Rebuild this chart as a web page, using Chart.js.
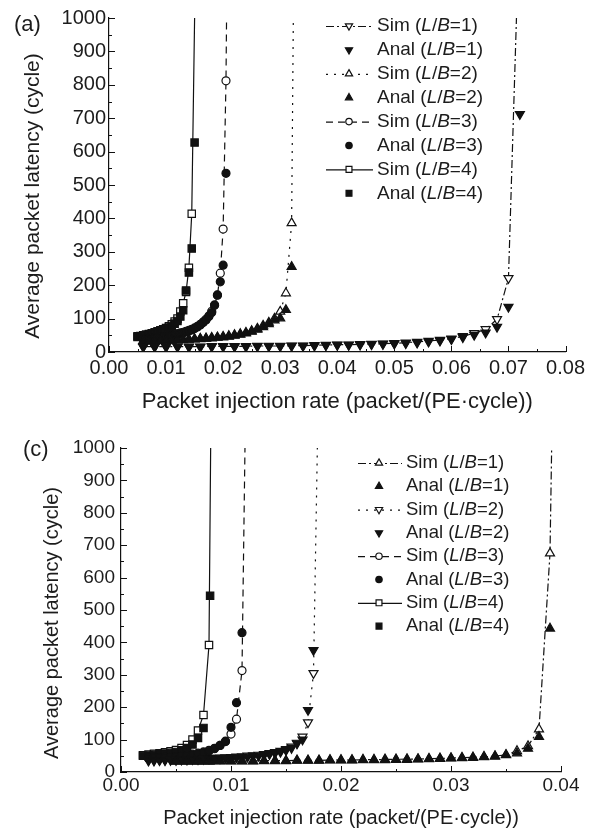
<!DOCTYPE html>
<html>
<head>
<meta charset="utf-8">
<script src="https://cdn.jsdelivr.net/npm/chart.js@4.4.1/dist/chart.umd.min.js"></script>
<style>
  html, body { margin: 0; padding: 0; background: #fff; }
  canvas { display: block; }
</style>
</head>
<body>
<canvas id="chart-a" width="589" height="420"></canvas>
<canvas id="chart-c" width="589" height="418"></canvas>
<script>
// axis ticks
const yTicks = [0, 100, 200, 300, 400, 500, 600, 700, 800, 900, 1000];
const yMinor = [50, 150, 250, 350, 450, 550, 650, 750, 850, 950];
const aXTicks = [0, 0.01, 0.02, 0.03, 0.04, 0.05, 0.06, 0.07, 0.08];
const aXMinor = [0.005, 0.015, 0.025, 0.035, 0.045, 0.055, 0.065, 0.075];
const cXTicks = [0, 0.01, 0.02, 0.03, 0.04];
const cXMinor = [0.005, 0.015, 0.025, 0.035];

const seriesLabels = ['Sim (L/B=1)', 'Anal (L/B=1)', 'Sim (L/B=2)', 'Anal (L/B=2)',
  'Sim (L/B=3)', 'Anal (L/B=3)', 'Sim (L/B=4)', 'Anal (L/B=4)'];

// ---- panel (a) ----
const a1SimX = [0.006, 0.008, 0.010, 0.012, 0.014, 0.016, 0.018, 0.020, 0.022, 0.024, 0.026, 0.028, 0.030, 0.032, 0.034, 0.036, 0.038,
  0.040, 0.042, 0.044, 0.046, 0.048, 0.050, 0.052, 0.054, 0.056, 0.058, 0.060, 0.062, 0.064, 0.066, 0.068, 0.070, 0.0714];
const a1SimY = [16, 16, 16, 16, 16, 16, 17, 17, 17, 17, 18, 18, 18, 19, 19, 20, 21,
  22, 22, 23, 24, 25, 26, 28, 30, 33, 36, 40, 47, 56, 68, 98, 221, 1000];
const a1AnaX = [0.006, 0.008, 0.010, 0.012, 0.014, 0.016, 0.018, 0.020, 0.022, 0.024, 0.026, 0.028, 0.030, 0.032, 0.034, 0.036, 0.038,
  0.040, 0.042, 0.044, 0.046, 0.048, 0.050, 0.052, 0.054, 0.056, 0.058, 0.060, 0.062, 0.064, 0.066, 0.068, 0.070, 0.072];
const a1AnaY = [15, 15, 15, 15, 15, 15, 16, 16, 16, 16, 17, 17, 17, 18, 18, 19, 20,
  21, 21, 22, 23, 24, 25, 26, 28, 31, 34, 38, 44, 51, 58, 75, 135, 712];

const a2SimX = [0.006, 0.007, 0.008, 0.009, 0.010, 0.011, 0.012, 0.013, 0.014, 0.015, 0.016, 0.017, 0.018, 0.019,
  0.020, 0.021, 0.022, 0.023, 0.024, 0.025, 0.026, 0.027, 0.028, 0.029, 0.030, 0.031, 0.032, 0.0323];
const a2SimY = [33, 33, 34, 34, 35, 35, 36, 37, 38, 39, 40, 41, 43, 44,
  46, 48, 51, 54, 58, 63, 70, 79, 88, 100, 121, 176, 386, 1000];
const a2AnaX = [0.006, 0.007, 0.008, 0.009, 0.010, 0.011, 0.012, 0.013, 0.014, 0.015, 0.016, 0.017, 0.018, 0.019,
  0.020, 0.021, 0.022, 0.023, 0.024, 0.025, 0.026, 0.027, 0.028, 0.029, 0.030, 0.031, 0.032];
const a2AnaY = [32, 32, 33, 33, 34, 34, 35, 36, 37, 38, 39, 40, 41, 43,
  44, 46, 49, 52, 56, 61, 67, 75, 84, 95, 101, 126, 255];

const a3SimX = [0.006, 0.0065, 0.007, 0.0075, 0.008, 0.0085, 0.009, 0.0095, 0.010, 0.0105, 0.011, 0.0115, 0.012, 0.0125, 0.013,
  0.0135, 0.014, 0.0145, 0.015, 0.0155, 0.016, 0.0165, 0.017, 0.0175, 0.018, 0.0185, 0.019, 0.0195, 0.020, 0.0205, 0.0206];
const a3SimY = [40, 41, 42, 43, 44, 45, 46, 47, 48, 50, 51, 53, 55, 57, 59,
  62, 65, 68, 72, 77, 83, 90, 98, 108, 122, 140, 170, 236, 368, 812, 1000];
const a3AnaX = [0.006, 0.0065, 0.007, 0.0075, 0.008, 0.0085, 0.009, 0.0095, 0.010, 0.0105, 0.011, 0.0115, 0.012, 0.0125, 0.013,
  0.0135, 0.014, 0.0145, 0.015, 0.0155, 0.016, 0.0165, 0.017, 0.0175, 0.018, 0.0185, 0.019, 0.0195, 0.020, 0.0205];
const a3AnaY = [38, 39, 40, 41, 42, 43, 44, 45, 46, 48, 49, 51, 53, 55, 57,
  60, 63, 66, 70, 75, 81, 88, 96, 106, 118, 141, 171, 210, 260, 535];

const a4SimX = [0.005, 0.0055, 0.006, 0.0065, 0.007, 0.0075, 0.008, 0.0085, 0.009, 0.0095, 0.010,
  0.0105, 0.011, 0.0115, 0.012, 0.0125, 0.013, 0.0135, 0.014, 0.0145, 0.0150];
const a4SimY = [47, 48, 50, 52, 54, 56, 59, 62, 65, 68, 72, 77, 83, 91, 100, 121, 146, 180, 252, 414, 1000];
const a4AnaX = [0.005, 0.0055, 0.006, 0.0065, 0.007, 0.0075, 0.008, 0.0085, 0.009, 0.0095, 0.010,
  0.0105, 0.011, 0.0115, 0.012, 0.0125, 0.013, 0.0135, 0.014, 0.0145, 0.0150];
const a4AnaY = [45, 46, 48, 50, 52, 54, 56, 59, 62, 65, 69, 73, 78, 85, 93, 106, 125, 184, 238, 310, 627];

// ---- panel (c) ----
const c1SimX = [0.005, 0.006, 0.007, 0.008, 0.009, 0.010, 0.011, 0.012, 0.013, 0.014, 0.015, 0.016, 0.017, 0.018,
  0.019, 0.020, 0.021, 0.022, 0.023, 0.024, 0.025, 0.026, 0.027, 0.028, 0.029, 0.030, 0.031, 0.032, 0.033,
  0.034, 0.035, 0.036, 0.037, 0.038, 0.039, 0.03915];
const c1SimY = [33, 33, 33, 33, 34, 34, 34, 34, 35, 35, 35, 36, 36, 36,
  37, 37, 37, 38, 38, 39, 39, 40, 40, 41, 42, 43, 44, 45, 47,
  49, 53, 65, 80, 132, 675, 1000];
const c1AnaX = [0.005, 0.006, 0.007, 0.008, 0.009, 0.010, 0.011, 0.012, 0.013, 0.014, 0.015, 0.016, 0.017, 0.018,
  0.019, 0.020, 0.021, 0.022, 0.023, 0.024, 0.025, 0.026, 0.027, 0.028, 0.029, 0.030, 0.031, 0.032, 0.033,
  0.034, 0.035, 0.036, 0.037, 0.038, 0.039];
const c1AnaY = [32, 32, 32, 32, 33, 33, 33, 33, 34, 34, 34, 35, 35, 35,
  36, 36, 36, 37, 37, 37, 38, 38, 39, 40, 41, 42, 43, 44, 46,
  48, 52, 58, 72, 109, 443];

const c2SimX = [0.0025, 0.003, 0.0035, 0.004, 0.0045, 0.005, 0.0055, 0.006, 0.0065, 0.007, 0.0075, 0.008, 0.0085, 0.009,
  0.0095, 0.010, 0.0105, 0.011, 0.0115, 0.012, 0.0125, 0.013, 0.0135, 0.014, 0.0145, 0.015, 0.0155, 0.016, 0.0165,
  0.017, 0.0175, 0.01785];
const c2SimY = [37, 37, 38, 38, 39, 39, 40, 40, 41, 41, 42, 43, 43, 44,
  45, 46, 47, 48, 50, 51, 53, 55, 58, 61, 65, 70, 78, 90, 109,
  153, 305, 1000];
const c2AnaX = [0.0025, 0.003, 0.0035, 0.004, 0.0045, 0.005, 0.0055, 0.006, 0.0065, 0.007, 0.0075, 0.008, 0.0085, 0.009,
  0.0095, 0.010, 0.0105, 0.011, 0.0115, 0.012, 0.0125, 0.013, 0.0135, 0.014, 0.0145, 0.015, 0.0155, 0.016, 0.0165,
  0.017, 0.0175];
const c2AnaY = [35, 35, 36, 36, 37, 37, 38, 38, 39, 39, 40, 41, 41, 42,
  43, 44, 45, 46, 47, 49, 50, 52, 55, 58, 62, 67, 74, 88, 100,
  191, 376];

const c3SimX = [0.0025, 0.003, 0.0035, 0.004, 0.0045, 0.005, 0.0055, 0.006, 0.0065, 0.007, 0.0075, 0.008, 0.0085,
  0.009, 0.0095, 0.010, 0.0105, 0.011, 0.01127];
const c3SimY = [44, 45, 46, 47, 48, 49, 51, 53, 55, 58, 62, 67, 73, 82, 95, 117, 163, 313, 1000];
const c3AnaX = [0.0025, 0.003, 0.0035, 0.004, 0.0045, 0.005, 0.0055, 0.006, 0.0065, 0.007, 0.0075, 0.008, 0.0085,
  0.009, 0.0095, 0.010, 0.0105, 0.011];
const c3AnaY = [42, 43, 44, 45, 46, 47, 49, 51, 53, 56, 60, 65, 72, 82, 94, 138, 214, 430];

const c4SimX = [0.002, 0.0025, 0.003, 0.0035, 0.004, 0.0045, 0.005, 0.0055, 0.006, 0.0065, 0.007, 0.0075, 0.008, 0.00815];
const c4SimY = [52, 54, 56, 58, 61, 64, 68, 74, 83, 100, 128, 176, 392, 1000];
const c4AnaX = [0.002, 0.0025, 0.003, 0.0035, 0.004, 0.0045, 0.005, 0.0055, 0.006, 0.0065, 0.007, 0.0075, 0.0081];
const c4AnaY = [50, 51, 53, 55, 57, 59, 62, 67, 74, 85, 105, 136, 544];

const black = '#111';
const textColor = '#1c1c1c';
const family = '"Liberation Sans", Arial, Helvetica, sans-serif';

const dashes = {
  dashDot: [8, 3, 2, 3],
  dotted: [2, 6],
  dashed: [7, 5],
  solid: [],
};
const markerRadius = { triangle: 5.2, circle: 4, rect: 5.2 };

function points(xs, ys) {
  return xs.map((x, i) => ({ x, y: ys[i] }));
}

// simulated series: open markers joined by a line, the last point only closes the curve at the top
function simSeries(label, xs, ys, style, rotation, dash) {
  return {
    label,
    order: 1,
    data: points(xs, ys),
    showLine: true,
    borderColor: black,
    borderWidth: 1.2,
    borderDash: dash,
    pointStyle: style,
    pointRotation: rotation,
    pointRadius: xs.map((x, i) => (i === xs.length - 1 ? 0 : markerRadius[style])),
    pointBackgroundColor: '#fff',
    pointBorderColor: black,
    pointBorderWidth: 1.2,
  };
}

// analytical series: filled markers only, drawn above the simulated ones
function analSeries(label, xs, ys, style, rotation) {
  return {
    label,
    order: 0,
    data: points(xs, ys),
    showLine: false,
    pointStyle: style,
    pointRotation: rotation,
    pointRadius: markerRadius[style],
    pointBackgroundColor: black,
    pointBorderColor: black,
    pointBorderWidth: 1.2,
  };
}

function drawLabel(ctx, text, x, y, size) {
  let cx = x;
  text.split(/([LB])/).forEach((part) => {
    if (!part) return;
    const italic = part === 'L' || part === 'B';
    ctx.font = `${italic ? 'italic ' : ''}${size}px ${family}`;
    ctx.fillText(part, cx, y);
    cx += ctx.measureText(part).width;
  });
}

const decorPlugin = {
  id: 'decor',
  afterDraw(chart, args, opts) {
    const ctx = chart.ctx;
    const area = chart.chartArea;
    const xScale = chart.scales.x;
    const yScale = chart.scales.y;
    ctx.save();

    // inward tick marks
    ctx.strokeStyle = black;
    ctx.lineWidth = 1;
    ctx.beginPath();
    const xTick = (v, len) => {
      const px = Math.round(xScale.getPixelForValue(v)) + 0.5;
      ctx.moveTo(px, area.bottom);
      ctx.lineTo(px, area.bottom - len);
    };
    const yTick = (v, len) => {
      const py = Math.round(yScale.getPixelForValue(v)) + 0.5;
      ctx.moveTo(area.left, py);
      ctx.lineTo(area.left + len, py);
    };
    opts.xMajor.forEach((v) => xTick(v, 6));
    opts.xMinor.forEach((v) => xTick(v, 3));
    yTicks.forEach((v) => yTick(v, 6));
    yMinor.forEach((v) => yTick(v, 3));
    ctx.stroke();

    ctx.fillStyle = textColor;
    ctx.textBaseline = 'middle';

    // panel letter
    ctx.textAlign = 'left';
    ctx.font = `${opts.panel.size}px ${family}`;
    ctx.fillText(opts.panel.text, opts.panel.x, opts.panel.y);

    // y axis title
    ctx.save();
    ctx.translate(opts.yTitle.x, opts.yTitle.y);
    ctx.rotate(-Math.PI / 2);
    ctx.textAlign = 'center';
    ctx.font = `${opts.yTitle.size}px ${family}`;
    ctx.fillText(opts.yTitle.text, 0, 0);
    ctx.restore();

    // legend
    const lg = opts.legend;
    chart.data.datasets.forEach((ds, i) => {
      const y = lg.top + i * lg.step;
      ctx.strokeStyle = black;
      ctx.lineWidth = 1.2;
      if (ds.showLine) {
        ctx.setLineDash(ds.borderDash);
        ctx.beginPath();
        ctx.moveTo(lg.lineStart, y + 0.5);
        ctx.lineTo(lg.lineEnd, y + 0.5);
        ctx.stroke();
        ctx.setLineDash([]);
      }
      ctx.fillStyle = ds.pointBackgroundColor;
      Chart.helpers.drawPoint(ctx, {
        pointStyle: ds.pointStyle,
        rotation: ds.pointRotation,
        radius: markerRadius[ds.pointStyle] * 0.8,
        borderWidth: 1.2,
      }, lg.markerX, y);
      ctx.fillStyle = textColor;
      ctx.textAlign = 'left';
      drawLabel(ctx, ds.label, lg.textX, y, lg.size);
    });
    ctx.restore();
  },
};

function makeChart(canvasId, cfg) {
  const canvas = document.getElementById(canvasId);
  return new Chart(canvas, {
    type: 'scatter',
    data: { datasets: cfg.datasets },
    options: {
      responsive: false,
      animation: false,
      devicePixelRatio: 1,
      events: [],
      layout: { padding: { top: cfg.area.top, right: canvas.width - cfg.area.right, left: 0, bottom: 0 } },
      plugins: {
        legend: { display: false },
        tooltip: { enabled: false },
        decor: cfg.decor,
      },
      scales: {
        x: {
          type: 'linear',
          min: 0,
          max: cfg.xTicks[cfg.xTicks.length - 1],
          afterBuildTicks: (scale) => { scale.ticks = cfg.xTicks.map((v) => ({ value: v })); },
          afterFit: (scale) => { scale.height = canvas.height - cfg.area.bottom; },
          grid: { display: false, drawTicks: false },
          border: { color: black, width: 1.2 },
          ticks: {
            callback: (v) => v.toFixed(2),
            font: { family, size: cfg.tickSize },
            color: textColor,
            padding: cfg.xTickPad,
            maxRotation: 0,
            autoSkip: false,
          },
          title: {
            display: true,
            text: 'Packet injection rate (packet/(PE\u00b7cycle))',
            font: { family, size: cfg.xTitleSize },
            color: textColor,
            padding: { top: 0, bottom: cfg.xTitlePad },
          },
        },
        y: {
          type: 'linear',
          min: 0,
          max: 1000,
          afterBuildTicks: (scale) => { scale.ticks = yTicks.map((v) => ({ value: v })); },
          afterFit: (scale) => { scale.width = cfg.area.left; },
          grid: { display: false, drawTicks: false },
          border: { color: black, width: 1.2 },
          ticks: {
            callback: (v) => String(v),
            font: { family, size: cfg.tickSize },
            color: textColor,
            padding: cfg.yTickPad,
            autoSkip: false,
          },
        },
      },
    },
    plugins: [decorPlugin],
  });
}

makeChart('chart-a', {
  area: { left: 109, right: 567, top: 18, bottom: 352 },
  xTicks: aXTicks,
  tickSize: 20,
  xTickPad: 4,
  yTickPad: 3,
  xTitleSize: 22,
  xTitlePad: 5,
  datasets: [
    simSeries(seriesLabels[0], a1SimX, a1SimY, 'triangle', 180, dashes.dashDot),
    analSeries(seriesLabels[1], a1AnaX, a1AnaY, 'triangle', 180),
    simSeries(seriesLabels[2], a2SimX, a2SimY, 'triangle', 0, dashes.dotted),
    analSeries(seriesLabels[3], a2AnaX, a2AnaY, 'triangle', 0),
    simSeries(seriesLabels[4], a3SimX, a3SimY, 'circle', 0, dashes.dashed),
    analSeries(seriesLabels[5], a3AnaX, a3AnaY, 'circle', 0),
    simSeries(seriesLabels[6], a4SimX, a4SimY, 'rect', 0, dashes.solid),
    analSeries(seriesLabels[7], a4AnaX, a4AnaY, 'rect', 0),
  ],
  decor: {
    xMajor: aXTicks,
    xMinor: aXMinor,
    panel: { text: '(a)', x: 14, y: 25, size: 22 },
    yTitle: { text: 'Average packet latency (cycle)', x: 33, y: 196, size: 21 },
    legend: { top: 26, step: 23.9, lineStart: 326, lineEnd: 373, markerX: 349, textX: 377, size: 19 },
  },
});

makeChart('chart-c', {
  area: { left: 121, right: 561, top: 28, bottom: 352 },
  xTicks: cXTicks,
  tickSize: 19,
  xTickPad: 2,
  yTickPad: 6,
  xTitleSize: 20,
  xTitlePad: 8,
  datasets: [
    simSeries(seriesLabels[0], c1SimX, c1SimY, 'triangle', 0, dashes.dashDot),
    analSeries(seriesLabels[1], c1AnaX, c1AnaY, 'triangle', 0),
    simSeries(seriesLabels[2], c2SimX, c2SimY, 'triangle', 180, dashes.dotted),
    analSeries(seriesLabels[3], c2AnaX, c2AnaY, 'triangle', 180),
    simSeries(seriesLabels[4], c3SimX, c3SimY, 'circle', 0, dashes.dashed),
    analSeries(seriesLabels[5], c3AnaX, c3AnaY, 'circle', 0),
    simSeries(seriesLabels[6], c4SimX, c4SimY, 'rect', 0, dashes.solid),
    analSeries(seriesLabels[7], c4AnaX, c4AnaY, 'rect', 0),
  ],
  decor: {
    xMajor: cXTicks,
    xMinor: cXMinor,
    panel: { text: '(c)', x: 23, y: 30, size: 22 },
    yTitle: { text: 'Average packet latency (cycle)', x: 52, y: 203, size: 20 },
    legend: { top: 43, step: 23.3, lineStart: 358, lineEnd: 402, markerX: 379, textX: 406, size: 18.5 },
  },
});
</script>
</body>
</html>
